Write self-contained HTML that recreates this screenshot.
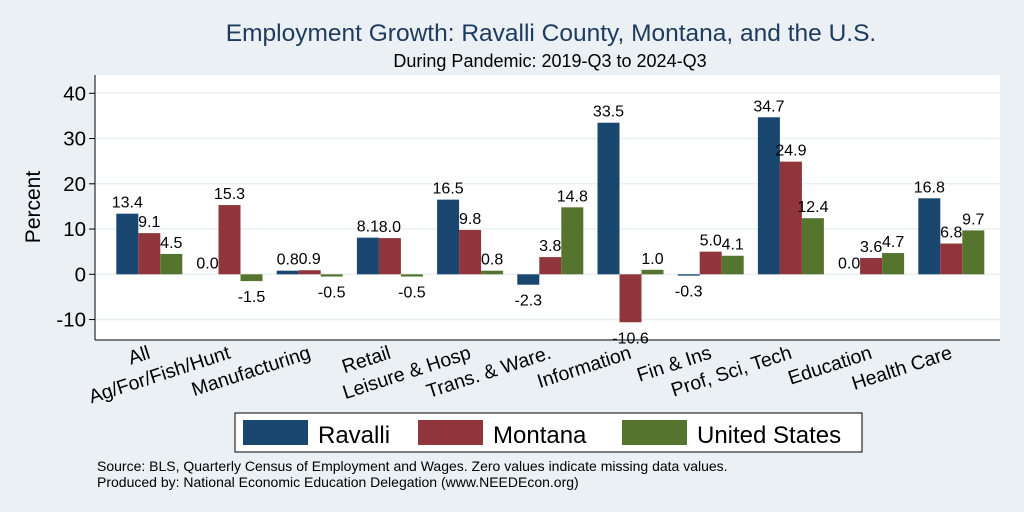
<!DOCTYPE html>
<html><head><meta charset="utf-8"><style>
body{margin:0;background:#eaf0f3;}
svg{display:block;font-family:"Liberation Sans",Arial,sans-serif;}
</style></head><body>
<svg width="1024" height="512" viewBox="0 0 1024 512">
<rect x="0" y="0" width="1024" height="512" fill="#eaf0f3"/>
<text x="551" y="41" font-size="24.5" fill="#1e3a5f" text-anchor="middle">Employment Growth: Ravalli County, Montana, and the U.S.</text>
<text x="550" y="67" font-size="18" fill="#000" text-anchor="middle">During Pandemic: 2019-Q3 to 2024-Q3</text>
<rect x="95" y="75" width="905" height="265" fill="#fff"/>
<g id="grid"></g><g id="bars"></g><g id="vals"></g><g id="yaxis"></g><g id="xlabels"></g>
<line x1="95" y1="75" x2="95" y2="340" stroke="#000" stroke-width="1"/>
<line x1="95" y1="340" x2="1000" y2="340" stroke="#000" stroke-width="1"/>
<text transform="translate(40,207) rotate(-90)" font-size="21" text-anchor="middle">Percent</text>
<g>
<rect x="235" y="413" width="627" height="39" fill="#fff" stroke="#000" stroke-width="1"/>
<rect x="243" y="420" width="65" height="25" fill="#1a476f"/>
<text x="318" y="443" font-size="24">Ravalli</text>
<rect x="418" y="420" width="65" height="25" fill="#90353b"/>
<text x="493" y="443" font-size="24">Montana</text>
<rect x="622" y="420" width="65" height="25" fill="#55752f"/>
<text x="697" y="443" font-size="24">United States</text>
</g>
<text x="97" y="471" font-size="14">Source: BLS, Quarterly Census of Employment and Wages. Zero values indicate missing data values.</text>
<text x="97" y="487" font-size="14">Produced by: National Economic Education Delegation (www.NEEDEcon.org)</text>
</svg>
<script>
const categories=["All","Ag/For/Fish/Hunt","Manufacturing","Retail","Leisure & Hosp","Trans. & Ware.","Information","Fin & Ins","Prof, Sci, Tech","Education","Health Care"];
const ravalli=[13.4,0.0,0.8,8.1,16.5,-2.3,33.5,-0.3,34.7,0.0,16.8];
const montana=[9.1,15.3,0.9,8.0,9.8,3.8,-10.6,5.0,24.9,3.6,6.8];
const us=[4.5,-1.5,-0.5,-0.5,0.8,14.8,1.0,4.1,12.4,4.7,9.7];
const yTicks=[-10,0,10,20,30,40];
const NS="http://www.w3.org/2000/svg";
function y(v){return 274.3-v*4.525;}
function gx(i){return 149.3+i*80.2;}
function mk(t,a,p){const e=document.createElementNS(NS,t);for(const k in a)e.setAttribute(k,a[k]);document.getElementById(p).appendChild(e);return e;}
yTicks.forEach(t=>{
  const g=mk("line",{x1:96,x2:1000,y1:y(t),y2:y(t),stroke:"#eaf0f3","stroke-width":1.5},"grid");
  
  
  const tk=mk("line",{x1:89,x2:95,y1:y(t),y2:y(t),stroke:"#000"},"yaxis");
  
  
  const tx=mk("text",{x:86,y:y(t)+7,"font-size":20.5,"text-anchor":"end"},"yaxis");
  tx.textContent=t;
  
  
});
const series=[[ravalli,"#1a476f","ravalli"],[montana,"#90353b","montana"],[us,"#55752f","us"]];
categories.forEach((c,i)=>{
  series.forEach(([arr,col,nm],j)=>{
    const v=arr[i];const x=gx(i)-33+j*22;
    const top=Math.min(y(v),y(0)),h=Math.abs(y(v)-y(0));
    const r=mk("rect",{x:x,y:top,width:22,height:Math.max(h,0.01),fill:col},"bars");
    
    
    const ty=v>=0?y(v)-6:y(v)+21;
    const t=mk("text",{x:x+11,y:ty,"font-size":16,"text-anchor":"middle"},"vals");
    t.textContent=v.toFixed(1);
    
    
  });
  const l=mk("text",{x:0,y:0,"font-size":19.5,"text-anchor":"end",transform:`translate(${gx(i)+2},${358}) rotate(-18)`},"xlabels");
  l.textContent=c;
  
  
});
</script>
</body></html>
